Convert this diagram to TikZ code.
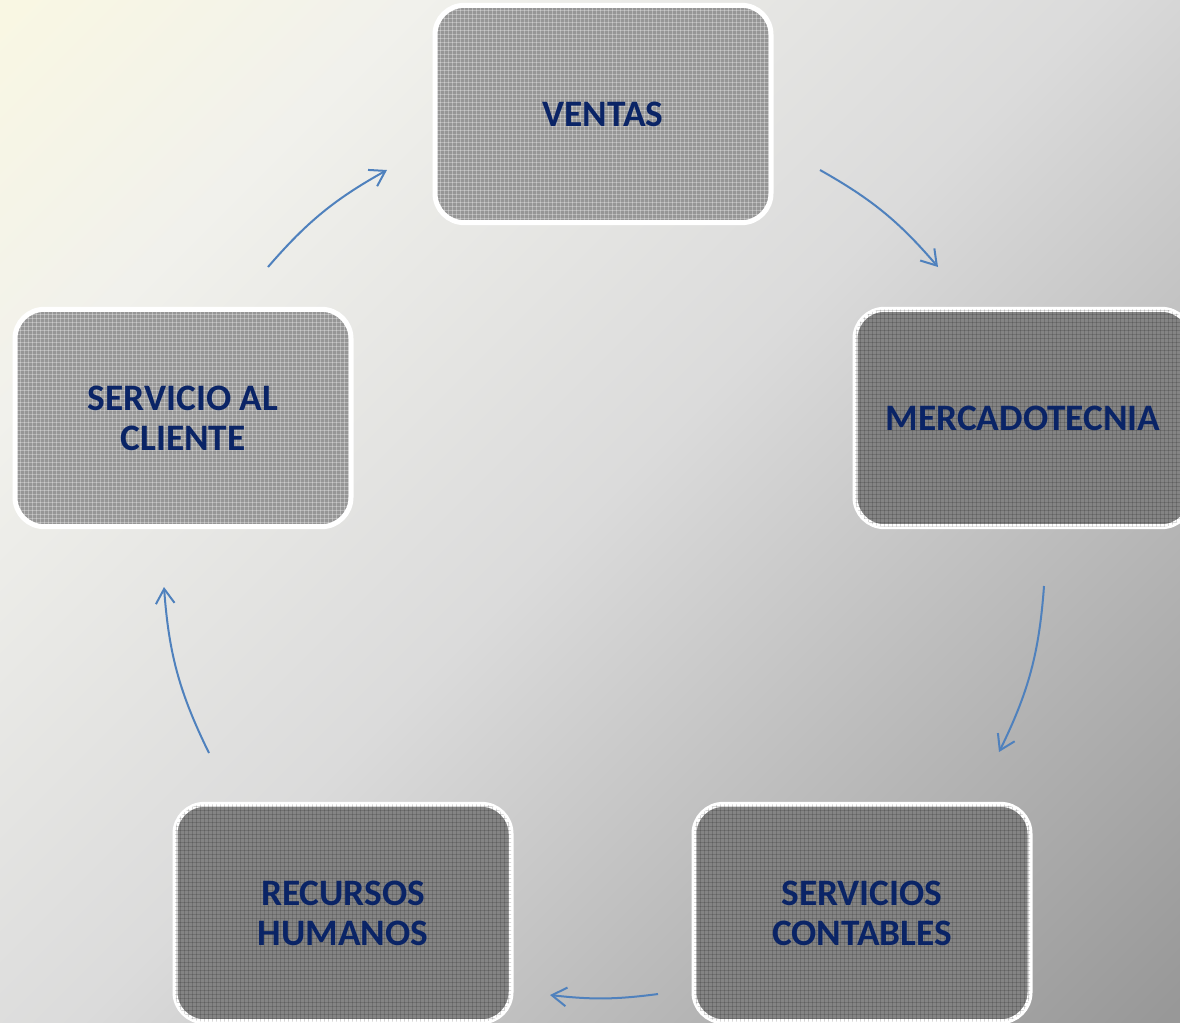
\documentclass[tikz,border=0pt]{standalone}
\usepackage{fontspec}
\setmainfont{Carlito}
\usetikzlibrary{arrows.meta,patterns}
\definecolor{bgA}{HTML}{F9F7E3}
\definecolor{bgL}{HTML}{F1F1EC}
\definecolor{bgM}{HTML}{DBDBDB}
\definecolor{bgC}{HTML}{B2B2B2}
\definecolor{bgB}{HTML}{989898}
\definecolor{navy}{HTML}{0A2466}
\definecolor{arrowblue}{HTML}{4F81BD}
\definecolor{boxlight}{HTML}{969696}
\definecolor{boxdark}{HTML}{848484}
\pgfdeclareverticalshading{bgshade}{100bp}{color(0bp)=(bgB); color(15bp)=(bgB); color(29bp)=(bgC); color(50bp)=(bgM); color(72bp)=(bgL); color(85bp)=(bgA); color(100bp)=(bgA)}
\begin{document}
\begin{tikzpicture}[x=0.75pt,y=0.75pt,
  box/.style={rectangle, rounded corners=22pt, draw=white, line width=3.75pt,
    minimum width=252pt, minimum height=163pt, align=center,
    font=\fontsize{28}{30}\selectfont\bfseries, text=navy},
  lightbox/.style={box, fill=boxlight, postaction={pattern=grid, pattern color=white, opacity=0.3}},
  darkbox/.style={box, fill=boxdark, postaction={pattern=grid, pattern color=black, opacity=0.15}},
  flow/.style={arrowblue, line width=1.5pt, -{Straight Barb[length=11pt,width=14pt,line width=1.5pt]}}]
\useasboundingbox (0,0) rectangle (1180,-1022);
\clip (0,0) rectangle (1180,-1022);
\shade[shading=bgshade, shading angle=45] (0,0) rectangle (1180,-1022);

\node[lightbox] (ventas) at (603,-114) {VENTAS};
\node[darkbox] (merc) at (1023,-418) {MERCADOTECNIA};
\node[darkbox] (sc) at (862,-913) {SERVICIOS\\CONTABLES};
\node[darkbox] (rh) at (343,-913) {RECURSOS\\HUMANOS};
\node[lightbox] (sac) at (183,-418) {SERVICIO AL\\CLIENTE};

\coordinate (a1s) at (268,-267);
\coordinate (a1e) at (387,-170);
\coordinate (a2s) at (820,-170);
\coordinate (a2e) at (938,-267);
\coordinate (a3s) at (1044,-586);
\coordinate (a3e) at (999,-752);
\coordinate (a4s) at (658,-994);
\coordinate (a4e) at (550,-995);
\coordinate (a5s) at (209,-753);
\coordinate (a5e) at (164,-587);

\draw[flow] (a1s) to[bend left=10] (a1e);
\draw[flow] (a2s) to[bend left=10] (a2e);
\draw[flow] (a3s) to[bend left=11] (a3e);
\draw[flow] (a4s) to[bend left=7] (a4e);
\draw[flow] (a5s) to[bend left=11] (a5e);
\end{tikzpicture}
\end{document}
